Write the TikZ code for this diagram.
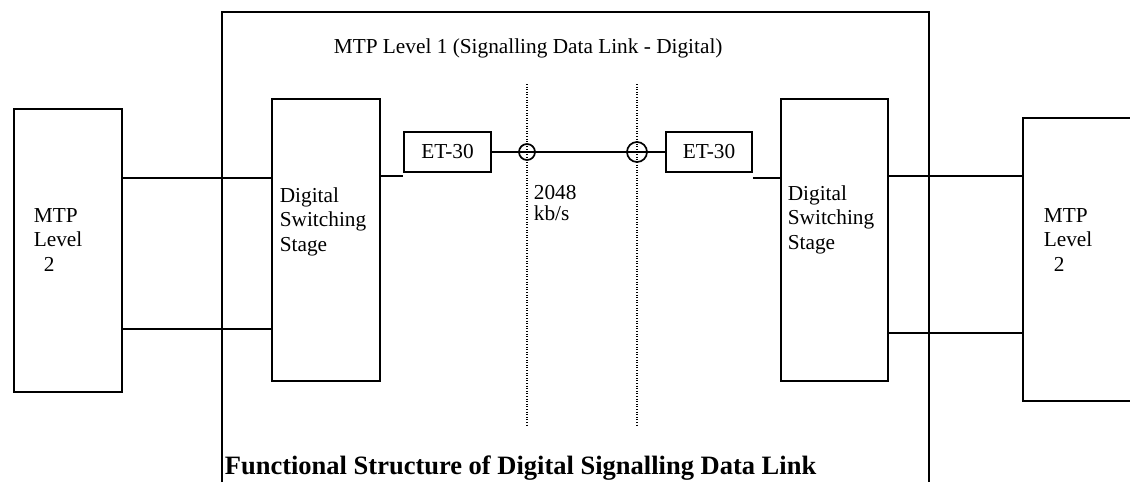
\documentclass[tikz,border=0pt]{standalone}
\usepackage{fontspec}
\setmainfont{Liberation Serif}
\begin{document}
\begin{tikzpicture}[x=1pt,y=-1pt,line width=1.7pt,
  box/.style={draw,inner sep=0pt,anchor=north west},
  txt/.style={anchor=base west,inner sep=0pt,font=\fontsize{21.3}{24}\selectfont},
  dots/.style={line width=1.2pt,dash pattern=on 1pt off 1.6pt}]
\useasboundingbox (0,0) rectangle (1130,482);
% outer frame (open at bottom)
\coordinate (fbl) at (222,482);
\coordinate (ftl) at (222,12);
\coordinate (ftr) at (929,12);
\coordinate (fbr) at (929,482);
\draw (fbl) -- (ftl) -- (ftr) -- (fbr);
\node[txt] (title) at (333,53) {MTP Level 1 (Signalling Data Link - Digital)};
% left MTP level 2
\node[box,minimum width=108pt,minimum height=283pt] (mtpL) at (13,108) {};
\node[txt] (mtpL1) at (33,222) {MTP};
\node[txt] (mtpL2) at (33,246) {Level};
\node[txt] (mtpL3) at (43,271) {2};
% left DSS
\node[box,minimum width=108pt,minimum height=282pt] (dssL) at (271,98) {};
\node[txt] (dssL1) at (279,202) {Digital};
\node[txt] (dssL2) at (279,226) {Switching};
\node[txt] (dssL3) at (279,251) {Stage};
% right DSS
\node[box,minimum width=107pt,minimum height=282pt] (dssR) at (780,98) {};
\node[txt] (dssR1) at (787,200) {Digital};
\node[txt] (dssR2) at (787,224) {Switching};
\node[txt] (dssR3) at (787,249) {Stage};
% right MTP level 2 (open at right)
\node[inner sep=0pt,anchor=north west,minimum width=107pt,minimum height=281pt] (mtpR) at (1023,118) {};
\draw (mtpR.north east) -- (mtpR.north west) -- (mtpR.south west) -- (mtpR.south east);
\node[txt] (mtpR1) at (1043,222) {MTP};
\node[txt] (mtpR2) at (1043,246) {Level};
\node[txt] (mtpR3) at (1053,271) {2};
% ET-30 boxes
\node[draw,inner sep=0pt,minimum width=87pt,minimum height=40pt,font=\fontsize{21.3}{24}\selectfont] (etL) at (447.5,152) {ET-30};
\node[draw,inner sep=0pt,minimum width=86pt,minimum height=40pt,font=\fontsize{21.3}{24}\selectfont] (etR) at (709,152) {ET-30};
% links MTP - DSS
\draw (mtpL.east |- 0,178) -- (dssL.west |- 0,178);
\draw (mtpL.east |- 0,329) -- (dssL.west |- 0,329);
\draw (dssR.east |- 0,176) -- (mtpR.west |- 0,176);
\draw (dssR.east |- 0,333) -- (mtpR.west |- 0,333);
% DSS - ET
\draw (dssL.east |- 0,176) -- (etL.south west |- 0,176);
\draw (etR.south east |- 0,178) -- (dssR.west |- 0,178);
% dotted interfaces
\coordinate (d1t) at (527,84);
\coordinate (d1b) at (527,426);
\coordinate (d2t) at (637,84);
\coordinate (d2b) at (637,426);
\draw[dots] (d1t) -- (d1b);
\draw[dots] (d2t) -- (d2b);
% 2048 kb/s link with interface circles
\draw (etL.east) -- (etR.west);
\node[draw,circle,inner sep=0pt,minimum size=16pt] (c1) at (527,152) {};
\node[draw,circle,inner sep=0pt,minimum size=20pt] (c2) at (637,152) {};
\node[txt] (rate1) at (533,199) {2048};
\node[txt] (rate2) at (533,220) {kb/s};
\node[txt,font=\fontsize{26.5}{28}\selectfont\bfseries] (cap) at (224,474) {Functional Structure of Digital Signalling Data Link};
\end{tikzpicture}
\end{document}
